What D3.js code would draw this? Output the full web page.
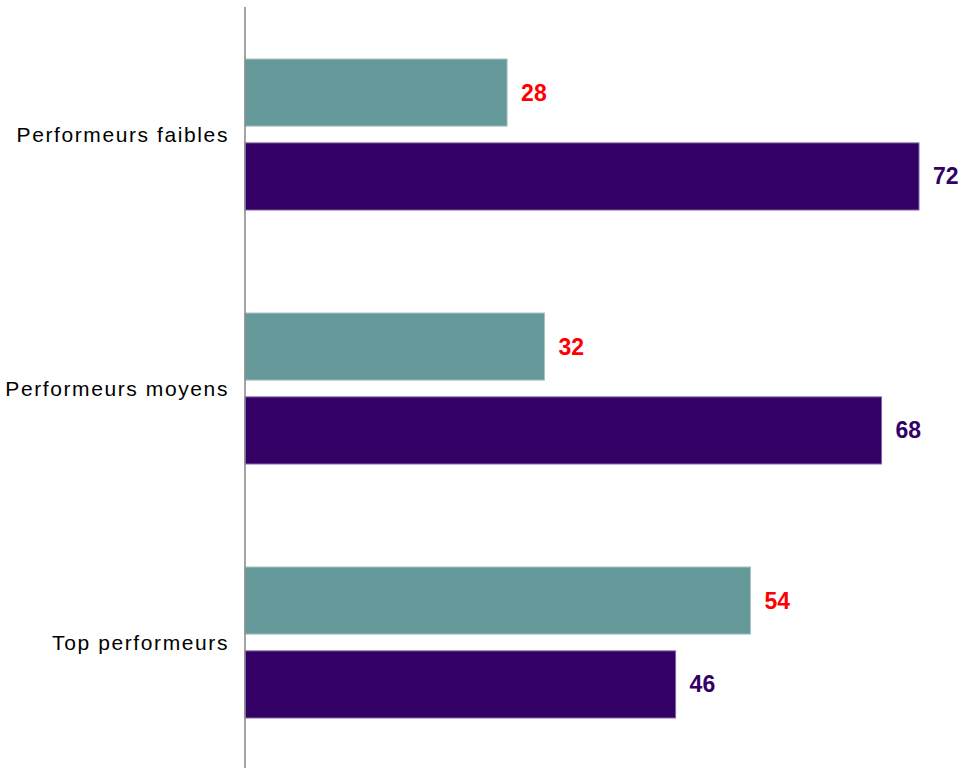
<!DOCTYPE html>
<html lang="fr">
<head>
    <meta charset="UTF-8">
    <title>Performeurs</title>
    <script src="https://d3js.org/d3.v7.min.js"></script>
    <style>
        body { margin: 0; background: #fff; }
        .cat-label {
            font-family: 'Liberation Sans', Arial, sans-serif;
            font-size: 21px;
            letter-spacing: 1.6px;
            fill: #000;
            text-anchor: end;
            dominant-baseline: central;
        }
        .val-label {
            font-family: 'Liberation Sans', Arial, sans-serif;
            font-size: 23px;
            font-weight: bold;
            dominant-baseline: central;
        }
    </style>
</head>
<body>
    <div id="chart"></div>
    <script>
        const categories = ["Performeurs faibles", "Performeurs moyens", "Top performeurs"];
        const seriesKeys = ["a", "b"];
        const seriesA = [28, 32, 54];
        const seriesB = [72, 68, 46];

        const width = 961;
        const height = 768;
        const axisX = 245;

        const fills = { a: "#669999", b: "#330066" };
        const strokes = { a: "#a9c4c4", b: "#8266a8" };
        const labelColors = { a: "#ff0000", b: "#330066" };

        const svg = d3.select("#chart")
            .append("svg")
            .attr("width", width)
            .attr("height", height);

        const x = d3.scaleLinear()
            .domain([0, 72])
            .range([axisX, 919]);

        const y = d3.scaleBand()
            .domain(categories)
            .range([7.5, 769.5])
            .paddingInner(0.4055)
            .paddingOuter(0.2028);

        const ySub = d3.scaleBand()
            .domain(seriesKeys)
            .range([0, y.bandwidth()])
            .paddingInner(0.2);

        const rows = categories.map((c, i) => ({
            cat: c,
            values: [
                { key: "a", value: seriesA[i] },
                { key: "b", value: seriesB[i] }
            ]
        }));

        const groups = svg.selectAll(".group")
            .data(rows)
            .enter()
            .append("g")
            .attr("class", "group")
            .attr("transform", d => `translate(0,${y(d.cat)})`);

        groups.selectAll("rect")
            .data(d => d.values)
            .enter()
            .append("rect")
            .attr("x", x(0))
            .attr("y", d => ySub(d.key))
            .attr("width", d => x(d.value) - x(0))
            .attr("height", ySub.bandwidth())
            .attr("fill", d => fills[d.key])
            .attr("stroke", d => strokes[d.key])
            .attr("stroke-width", 1);

        groups.selectAll(".val-label")
            .data(d => d.values)
            .enter()
            .append("text")
            .attr("class", "val-label")
            .attr("x", d => x(d.value) + 14)
            .attr("y", d => ySub(d.key) + ySub.bandwidth() / 2)
            .attr("fill", d => labelColors[d.key])
            .text(d => d.value);

        // category labels (trailing letter-spacing compensated)
        svg.selectAll(".cat-label")
            .data(categories)
            .enter()
            .append("text")
            .attr("class", "cat-label")
            .attr("x", axisX - 16)
            .attr("y", d => y(d) + y.bandwidth() / 2)
            .text(d => d);

        // vertical axis line
        svg.append("line")
            .attr("x1", axisX)
            .attr("x2", axisX)
            .attr("y1", 7)
            .attr("y2", height)
            .attr("stroke", "#868686")
            .attr("stroke-width", 1.5);
    </script>
</body>
</html>
